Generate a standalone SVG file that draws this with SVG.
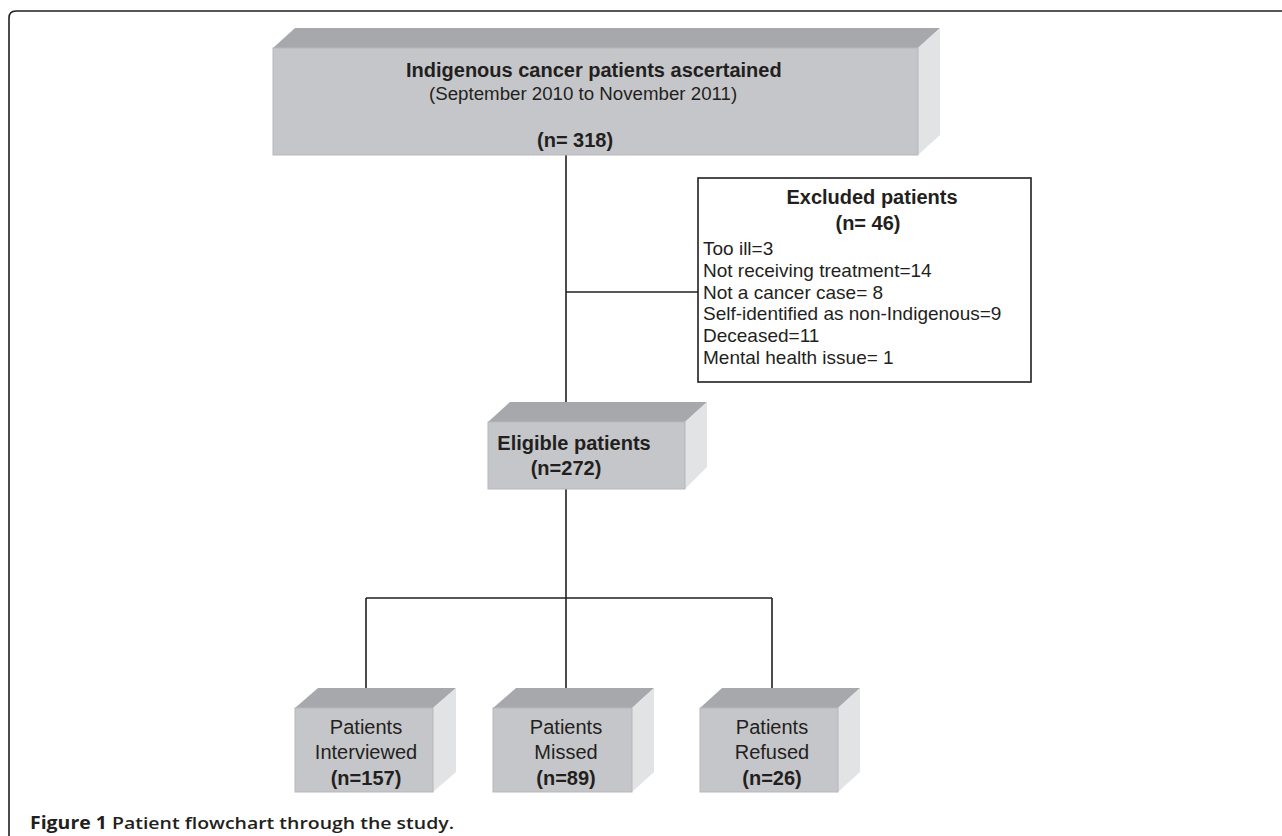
<svg xmlns="http://www.w3.org/2000/svg" width="1282" height="836" viewBox="0 0 1282 836">
<style>
.top{fill:#a7a8ab}
.front{fill:#c5c6c9;stroke:#b6b7ba;stroke-width:1}
.side{fill:#e2e3e5}
.ln{stroke:#231f20;stroke-width:1.6;fill:none}
.b{font-family:"Liberation Sans",Arial,sans-serif;font-weight:bold;fill:#231f20}
.r{font-family:"Liberation Sans",Arial,sans-serif;fill:#231f20}
</style>
<rect width="1282" height="836" fill="#ffffff"/>
<path class="ln" d="M9,836 V18 Q9,11 16,11 H1282"/>
<g id="connectors">
<line class="ln" x1="566" y1="155" x2="566" y2="402"/>
<line class="ln" x1="566" y1="292" x2="701" y2="292"/>
<line class="ln" x1="566" y1="489" x2="566" y2="598"/>
<line class="ln" x1="366" y1="598" x2="772" y2="598"/>
<line class="ln" x1="366" y1="598" x2="366" y2="688"/>
<line class="ln" x1="566" y1="598" x2="566" y2="688"/>
<line class="ln" x1="772" y1="598" x2="772" y2="688"/>
</g>
<g id="ascertained">
<polygon class="top" points="295,28 940,28 918,48 273,48"/>
<polygon class="side" points="918,48 940,28 940,135 918,155"/>
<rect class="front" x="273" y="48" width="645" height="107"/>
<text class="b" x="406" y="77" font-size="20">Indigenous cancer patients ascertained</text>
<text class="r" x="429" y="100" font-size="18.7">(September 2010 to November 2011)</text>
<text class="b" x="537" y="147" font-size="20">(n= 318)</text>
</g>
<g id="excluded">
<rect x="698" y="178" width="333" height="204" fill="#ffffff" stroke="#231f20" stroke-width="1.6"/>
<text class="b" x="872" y="204" font-size="20" text-anchor="middle">Excluded patients</text>
<text class="b" x="868" y="230" font-size="20" text-anchor="middle">(n= 46)</text>
<text class="r" x="703" y="255" font-size="19">Too ill=3</text>
<text class="r" x="703" y="277" font-size="19">Not receiving treatment=14</text>
<text class="r" x="703" y="299" font-size="19">Not a cancer case= 8</text>
<text class="r" x="703" y="320" font-size="19">Self-identified as non-Indigenous=9</text>
<text class="r" x="703" y="342" font-size="19">Deceased=11</text>
<text class="r" x="703" y="364" font-size="19">Mental health issue= 1</text>
</g>
<g id="eligible">
<polygon class="top" points="510,402 707,402 685,422 488,422"/>
<polygon class="side" points="685,422 707,402 707,467 685,489"/>
<rect class="front" x="488" y="422" width="197" height="67"/>
<text class="b" x="574" y="450" font-size="20" text-anchor="middle">Eligible patients</text>
<text class="b" x="566" y="475" font-size="20" text-anchor="middle">(n=272)</text>
</g>
<g id="interviewed">
<polygon class="top" points="318,688 456,688 433,708 295,708"/>
<polygon class="side" points="433,708 456,688 456,772 433,792"/>
<rect class="front" x="295" y="708" width="138" height="84"/>
<text class="r" x="366" y="734" font-size="20" text-anchor="middle">Patients</text>
<text class="r" x="366" y="759" font-size="20" text-anchor="middle">Interviewed</text>
<text class="b" x="366" y="785" font-size="20" text-anchor="middle">(n=157)</text>
</g>
<g id="missed">
<polygon class="top" points="516,688 654,688 632,708 493,708"/>
<polygon class="side" points="632,708 654,688 654,772 632,792"/>
<rect class="front" x="493" y="708" width="139" height="84"/>
<text class="r" x="566" y="734" font-size="20" text-anchor="middle">Patients</text>
<text class="r" x="566" y="759" font-size="20" text-anchor="middle">Missed</text>
<text class="b" x="566" y="785" font-size="20" text-anchor="middle">(n=89)</text>
</g>
<g id="refused">
<polygon class="top" points="722,688 860,688 838,708 700,708"/>
<polygon class="side" points="838,708 860,688 860,772 838,792"/>
<rect class="front" x="700" y="708" width="138" height="84"/>
<text class="r" x="772" y="734" font-size="20" text-anchor="middle">Patients</text>
<text class="r" x="772" y="759" font-size="20" text-anchor="middle">Refused</text>
<text class="b" x="772" y="785" font-size="20" text-anchor="middle">(n=26)</text>
</g>
<text x="30" y="829" font-family="'Open Sans','Noto Sans',sans-serif" font-size="17" fill="#231f20" font-weight="bold" textLength="424" lengthAdjust="spacingAndGlyphs">Figure 1 <tspan font-weight="600">Patient flowchart through the study.</tspan></text>
</svg>
